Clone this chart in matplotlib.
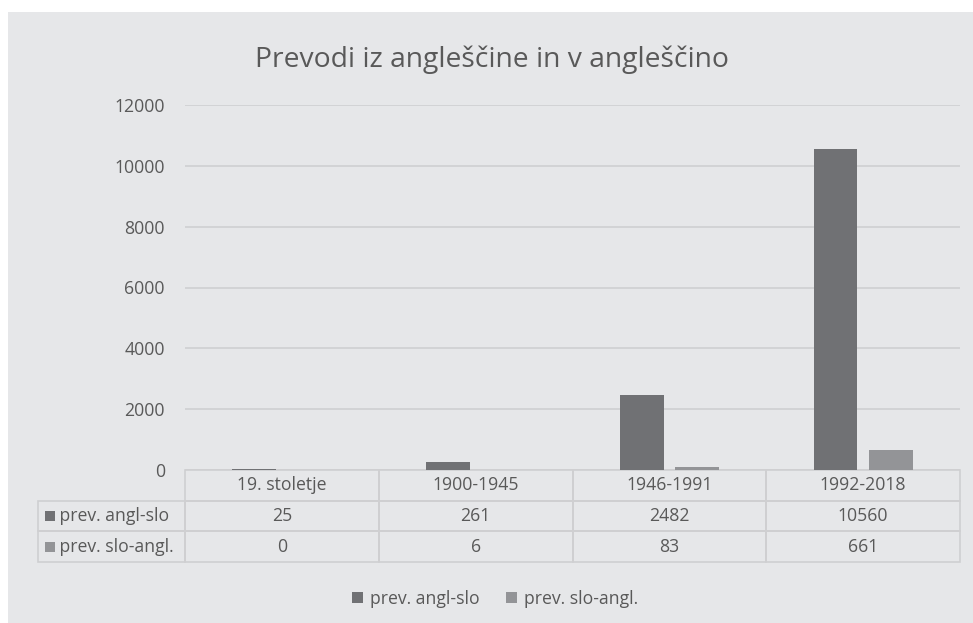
import matplotlib.pyplot as plt
import numpy as np
from matplotlib.table import Table
from matplotlib.patches import Rectangle

plt.rcParams['font.family'] = ['Open Sans', 'DejaVu Sans']

title = "Prevodi iz angleščine in v angleščino"
periods = ["19. stoletje", "1900-1945", "1946-1991", "1992-2018"]
series_names = ["prev. angl-slo", "prev. slo-angl."]
angl_slo = [25, 261, 2482, 10560]
slo_angl = [0, 6, 83, 661]
yticks = [0, 2000, 4000, 6000, 8000, 10000, 12000]

dark = "#707174"
light = "#939497"
bg = "#e6e7e9"
txt = "#595959"
grid = "#cfcfd1"
fs = 12.7

W, H = 973, 623
fig = plt.figure(figsize=(W / 100, H / 100), dpi=100)
fig.patch.set_facecolor("white")
fig.patches.append(Rectangle((8 / W, 0), 1, 1 - 12 / H, transform=fig.transFigure,
                             facecolor=bg, edgecolor="none", zorder=-10))

# plot area in pixels
x0, x1, ytop, ybot = 185, 960, 105, 470
pw, ph = x1 - x0, ybot - ytop
ax = fig.add_axes([x0 / W, 1 - ybot / H, pw / W, ph / H])
ax.set_facecolor("none")

x = np.arange(len(periods))
bw = 0.226
off = 0.143
ax.bar(x - off, angl_slo, bw, color=dark, zorder=3)
ax.bar(x + off, slo_angl, bw, color=light, zorder=3)

ax.set_xlim(-0.5, len(periods) - 0.5)
ax.set_ylim(0, 12000)
ax.set_yticks(yticks)
ax.set_yticklabels([str(v) for v in yticks], color=txt, fontsize=fs)
ax.tick_params(axis="y", length=0, pad=14.5)
ax.set_xticks([])
ax.grid(axis="y", color=grid, linewidth=1.2, zorder=0)
for s in ax.spines.values():
    s.set_visible(False)

fig.text(492 / W, 1 - 60 / H, title, ha="center", va="center",
         fontsize=20.3, color=txt)

# data table below the axes (sizes in axes units)
row_h = 30.7 / ph
lab_w = (x0 - 38) / pw
col_w = 1 / len(periods)
tbl = Table(ax, bbox=[0, -3 * row_h, 1, 3 * row_h])
for j, p in enumerate(periods):
    tbl.add_cell(0, j, col_w, row_h, text=p, loc="center", edgecolor=grid, facecolor="none")
rows = [angl_slo, slo_angl]
for i, (name, vals) in enumerate(zip(series_names, rows)):
    tbl.add_cell(i + 1, -1, lab_w, row_h, text="    " + name, loc="left",
                 edgecolor=grid, facecolor="none")
    for j, v in enumerate(vals):
        tbl.add_cell(i + 1, j, col_w, row_h, text=str(v), loc="center",
                     edgecolor=grid, facecolor="none")
tbl.auto_set_font_size(False)
tbl.set_fontsize(fs)
ax.add_table(tbl)
tbl.set_clip_on(False)
for c in tbl.get_celld().values():
    c.set_clip_on(False)
    c.get_text().set_clip_on(False)
    c.get_text().set_color(txt)
    c.set_linewidth(1.2)
    c.PAD = 0.02

# small legend squares in the row labels
for i, col in enumerate([dark, light]):
    yc = ybot + 30.7 * (i + 1.5)
    fig.patches.append(Rectangle((45 / W, 1 - (yc + 5) / H), 10 / W, 10 / H,
                                 transform=fig.transFigure, facecolor=col, edgecolor="none"))

# legend at the bottom
handles = [Rectangle((0, 0), 1, 1, facecolor=dark), Rectangle((0, 0), 1, 1, facecolor=light)]
leg = fig.legend(handles, series_names, loc="center", bbox_to_anchor=(495 / W, 1 - 599 / H),
                 ncol=2, frameon=False, fontsize=fs, handlelength=0.6, handleheight=0.6,
                 handletextpad=0.4, columnspacing=1.5)
for t in leg.get_texts():
    t.set_color(txt)

fig.savefig("out.png", dpi=100, facecolor=fig.get_facecolor())
